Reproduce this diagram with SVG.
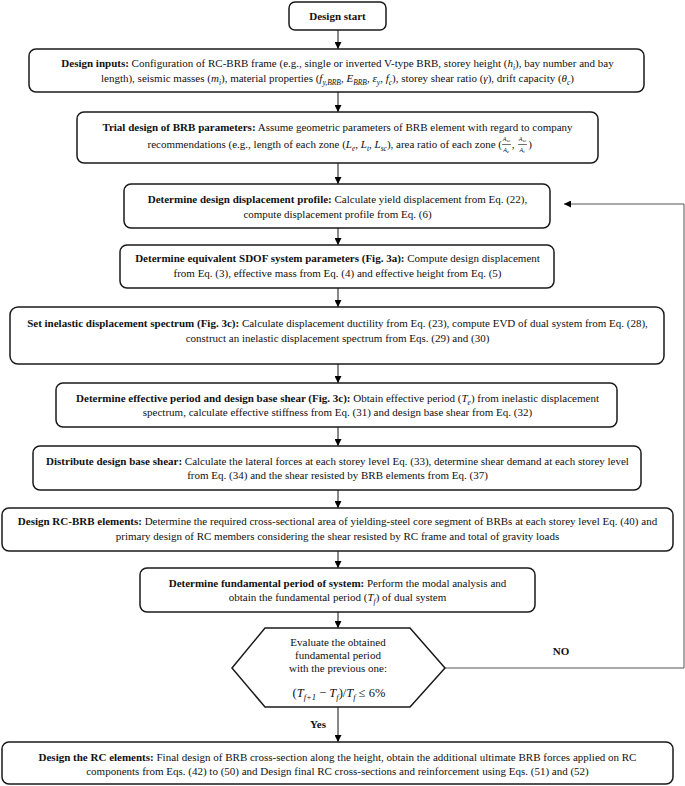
<svg xmlns="http://www.w3.org/2000/svg" width="685" height="786" viewBox="0 0 685 786">
<defs>
<marker id="ah" viewBox="0 0 10 10" refX="10" refY="5" markerWidth="9" markerHeight="7" markerUnits="userSpaceOnUse" orient="auto">
<path d="M0,0 L10,5 L0,10 z" fill="#000"/>
</marker>
<style>
.box{fill:#fff;stroke:#1a1a1a;stroke-width:1.5}
.t{font-family:"Liberation Serif","Times New Roman",serif;font-size:11px;fill:#111;text-anchor:middle}
.b{font-weight:bold}
.i{font-style:italic}
.s{font-size:7.5px}
.f{font-family:"Liberation Serif","Times New Roman",serif;font-size:6px;font-style:italic;fill:#111;text-anchor:middle}
.c{fill:none;stroke:#111;stroke-width:1}
.fb{fill:none;stroke:#555;stroke-width:1}
</style>
</defs>
<rect width="685" height="786" fill="#fff"/>

<g id="connectors">
<line class="c" x1="338" y1="30" x2="338" y2="49" marker-end="url(#ah)"/>
<line class="c" x1="338" y1="92" x2="338" y2="112" marker-end="url(#ah)"/>
<line class="c" x1="338" y1="163" x2="338" y2="184" marker-end="url(#ah)"/>
<line class="c" x1="338" y1="228" x2="338" y2="245" marker-end="url(#ah)"/>
<line class="c" x1="338" y1="288" x2="338" y2="307" marker-end="url(#ah)"/>
<line class="c" x1="338" y1="364" x2="338" y2="383" marker-end="url(#ah)"/>
<line class="c" x1="338" y1="427" x2="338" y2="446" marker-end="url(#ah)"/>
<line class="c" x1="338" y1="490" x2="338" y2="508" marker-end="url(#ah)"/>
<line class="c" x1="338" y1="551" x2="338" y2="568" marker-end="url(#ah)"/>
<line class="c" x1="338" y1="612" x2="338" y2="628" marker-end="url(#ah)"/>
<line class="c" x1="338" y1="707" x2="338" y2="742" marker-end="url(#ah)"/>
<polyline class="fb" points="445,668 684,668 684,204 564,204" marker-end="url(#ah)"/>
<text class="t b" x="561" y="655">NO</text>
<text class="t b" x="318" y="728">Yes</text>
</g>

<g id="start">
<rect class="box" x="289" y="2" width="97" height="28" rx="6"/>
<text class="t b" x="337.5" y="20">Design start</text>
</g>

<g id="inputs">
<rect class="box" x="29" y="49" width="615" height="43" rx="7"/>
<text class="t" x="337.5" y="67"><tspan class="b">Design inputs:</tspan> Configuration of RC-BRB frame (e.g., single or inverted V-type BRB, storey height (<tspan class="i">h</tspan><tspan class="i s" dy="2.5">i</tspan><tspan dy="-2.5">), bay number and bay</tspan></text>
<text class="t" x="337.5" y="82">length), seismic masses (<tspan class="i">m</tspan><tspan class="i s" dy="2.5">i</tspan><tspan dy="-2.5">), material properties (</tspan><tspan class="i">f</tspan><tspan class="i s" dy="2.5">y,BRB</tspan><tspan dy="-2.5">, </tspan><tspan class="i">E</tspan><tspan class="i s" dy="2.5">BRB</tspan><tspan dy="-2.5">, </tspan><tspan class="i">ε</tspan><tspan class="i s" dy="2.5">y</tspan><tspan dy="-2.5">, </tspan><tspan class="i">f</tspan><tspan class="i s" dy="2.5">c</tspan><tspan dy="-2.5">), storey shear ratio (</tspan><tspan class="i">γ</tspan>), drift capacity (<tspan class="i">θ</tspan><tspan class="i s" dy="2.5">c</tspan><tspan dy="-2.5">)</tspan></text>
</g>

<g id="trial">
<rect class="box" x="77" y="112" width="521" height="51" rx="7"/>
<text class="t" x="337.5" y="131"><tspan class="b">Trial design of BRB parameters:</tspan> Assume geometric parameters of BRB element with regard to company</text>
<text class="t" x="502" y="148" style="text-anchor:end">recommendations (e.g., length of each zone (<tspan class="i">L</tspan><tspan class="i s" dy="2.5">e</tspan><tspan dy="-2.5">, </tspan><tspan class="i">L</tspan><tspan class="i s" dy="2.5">t</tspan><tspan dy="-2.5">, </tspan><tspan class="i">L</tspan><tspan class="i s" dy="2.5">sc</tspan><tspan dy="-2.5">), area ratio of each zone (</tspan></text>
<text class="f" x="506.5" y="141">A<tspan font-size="4.5" dy="1">sc</tspan></text>
<line x1="502" y1="144.5" x2="511" y2="144.5" stroke="#111" stroke-width="0.6"/>
<text class="f" x="506" y="152">A<tspan font-size="4.5" dy="1">e</tspan></text>
<text class="t" x="513" y="148">,</text>
<text class="f" x="522.5" y="141">A<tspan font-size="4.5" dy="1">sc</tspan></text>
<line x1="518" y1="144.5" x2="527" y2="144.5" stroke="#111" stroke-width="0.6"/>
<text class="f" x="522" y="152">A<tspan font-size="4.5" dy="1">t</tspan></text>
<text class="t" x="530" y="148">)</text>
</g>

<g id="displacement">
<rect class="box" x="124" y="184" width="426" height="44" rx="7"/>
<text class="t" x="337.5" y="203"><tspan class="b">Determine design displacement profile:</tspan> Calculate yield displacement from Eq. (22),</text>
<text class="t" x="337.5" y="218">compute displacement profile from Eq. (6)</text>
</g>

<g id="sdof">
<rect class="box" x="120" y="245" width="434" height="43" rx="7"/>
<text class="t" x="337.5" y="262"><tspan class="b">Determine equivalent SDOF system parameters (Fig. 3a):</tspan> Compute design displacement</text>
<text class="t" x="337.5" y="277">from Eq. (3), effective mass from Eq. (4) and effective height from Eq. (5)</text>
</g>

<g id="spectrum">
<rect class="box" x="10" y="307" width="654" height="57" rx="8"/>
<text class="t" x="337.5" y="327"><tspan class="b">Set inelastic displacement spectrum (Fig. 3c):</tspan> Calculate displacement ductility from Eq. (23), compute EVD of dual system from Eq. (28),</text>
<text class="t" x="337.5" y="342">construct an inelastic displacement spectrum from Eqs. (29) and (30)</text>
</g>

<g id="period">
<rect class="box" x="56" y="383" width="561" height="44" rx="7"/>
<text class="t" x="337.5" y="402"><tspan class="b">Determine effective period and design base shear (Fig. 3c):</tspan> Obtain effective period (<tspan class="i">T</tspan><tspan class="i s" dy="2.5">e</tspan><tspan dy="-2.5">) from inelastic displacement</tspan></text>
<text class="t" x="337.5" y="416">spectrum, calculate effective stiffness from Eq. (31) and design base shear from Eq. (32)</text>
</g>

<g id="distribute">
<rect class="box" x="33" y="446" width="608" height="44" rx="7"/>
<text class="t" x="337.5" y="465"><tspan class="b">Distribute design base shear:</tspan> Calculate the lateral forces at each storey level Eq. (33), determine shear demand at each storey level</text>
<text class="t" x="337.5" y="479">from Eq. (34) and the shear resisted by BRB elements from Eq. (37)</text>
</g>

<g id="rcbrb">
<rect class="box" x="2" y="508" width="671" height="43" rx="7"/>
<text class="t" x="337.5" y="525"><tspan class="b">Design RC-BRB elements:</tspan> Determine the required cross-sectional area of yielding-steel core segment of BRBs at each storey level Eq. (40) and</text>
<text class="t" x="337.5" y="540">primary design of RC members considering the shear resisted by RC frame and total of gravity loads</text>
</g>

<g id="fundamental">
<rect class="box" x="140" y="568" width="395" height="44" rx="7"/>
<text class="t" x="337.5" y="587"><tspan class="b">Determine fundamental period of system:</tspan> Perform the modal analysis and</text>
<text class="t" x="337.5" y="601">obtain the fundamental period (<tspan class="i">T</tspan><tspan class="i s" dy="2.5">f</tspan><tspan dy="-2.5">) of dual system</tspan></text>
</g>

<g id="decision">
<polygon class="box" points="265,628 410,628 445,668 410,707 265,707 232,668"/>
<text class="t" x="338" y="646">Evaluate the obtained</text>
<text class="t" x="338" y="659">fundamental period</text>
<text class="t" x="338" y="672">with the previous one:</text>
<text class="t" x="339" y="697" style="font-size:12.5px">(<tspan class="i">T</tspan><tspan class="i" style="font-size:8.5px" dy="2.5">f+1</tspan><tspan dy="-2.5"> − </tspan><tspan class="i">T</tspan><tspan class="i" style="font-size:8.5px" dy="2.5">f</tspan><tspan dy="-2.5">)/</tspan><tspan class="i">T</tspan><tspan class="i" style="font-size:8.5px" dy="2.5">f</tspan><tspan dy="-2.5"> ≤ 6%</tspan></text>
</g>

<g id="rcelements">
<rect class="box" x="2" y="742" width="671" height="42" rx="7"/>
<text class="t" x="337.5" y="761"><tspan class="b">Design the RC elements:</tspan> Final design of BRB cross-section along the height, obtain the additional ultimate BRB forces applied on RC</text>
<text class="t" x="337.5" y="775">components from Eqs. (42) to (50) and Design final RC cross-sections and reinforcement using Eqs. (51) and (52)</text>
</g>
</svg>
